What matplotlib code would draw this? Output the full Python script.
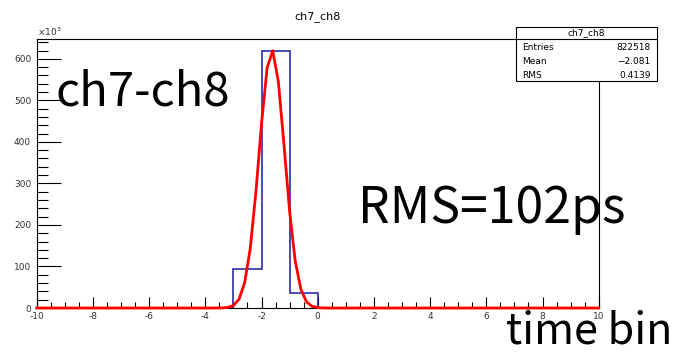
import numpy as np
import matplotlib
matplotlib.use("Agg")
import matplotlib.pyplot as plt
from matplotlib.patches import Rectangle
from matplotlib.ticker import MultipleLocator, FuncFormatter

plt.rcParams['axes.unicode_minus'] = False

# histogram ch7_ch8 (1 bin per time bin, -10..10)
bin_edges = np.arange(-10, 11, 1)
counts = [0, 0, 0, 0, 0, 0, 0, 95000, 619000, 35500,
          0, 0, 0, 0, 0, 0, 0, 0, 0, 0]

# gaussian fit parameters
fit_const = 621000
fit_mean = -1.63
fit_sigma = 0.45

stats_names = ["Entries", "Mean", "RMS"]
stats_vals = ["822518", "\u22122.081", "0.4139"]

W, H = 682, 353
fig = plt.figure(figsize=(W / 100, H / 100), dpi=100)
ax = fig.add_axes([36.7 / W, 1 - 308 / H, (598.7 - 36.7) / W, (308 - 39.3) / H])

ax.stairs(counts, bin_edges, color='#1a1aa8', linewidth=1.1, zorder=3)

# ROOT draws the fit with 100 segments
xf = np.linspace(-10, 10, 101)
yf = fit_const * np.exp(-0.5 * ((xf - fit_mean) / fit_sigma) ** 2)
ax.plot(xf, yf, color='#ff0000', linewidth=2.0, zorder=4, clip_on=False)

ax.set_xlim(-10, 10)
ax.set_ylim(0, 647000)

ax.xaxis.set_major_locator(MultipleLocator(2))
ax.xaxis.set_minor_locator(MultipleLocator(0.5))
ax.yaxis.set_major_locator(MultipleLocator(100000))
ax.yaxis.set_minor_locator(MultipleLocator(20000))
ax.yaxis.set_major_formatter(FuncFormatter(lambda v, p: "%d" % round(v / 1000)))
ax.tick_params(axis='x', which='major', direction='in', length=8, width=0.8,
               labelsize=6.5, pad=3, colors='black', labelcolor='#333333')
ax.tick_params(axis='x', which='minor', direction='in', length=4, width=0.8)
ax.tick_params(axis='y', which='major', direction='in', length=17, width=0.8,
               labelsize=6.5, pad=4, labelcolor='#333333')
ax.tick_params(axis='y', which='minor', direction='in', length=8, width=0.8)
for s in ax.spines.values():
    s.set_linewidth(0.8)

ax.text(0.0, 1.005, "\u00d710$^{3}$", transform=ax.transAxes, fontsize=6.5,
        color='#333333', ha='left', va='bottom')

fig.text(318 / W, 1 - 17 / H, "ch7_ch8", fontsize=8, ha='center', va='center')

# stats box
bx0, bx1, by0, by1, byt = 515.7, 656.7, 26.7, 81, 39.3
fig.patches.append(Rectangle((bx0 / W, 1 - by1 / H), (bx1 - bx0) / W, (by1 - by0) / H,
                             transform=fig.transFigure, facecolor='white',
                             edgecolor='black', linewidth=0.8, zorder=10))
fig.lines.append(plt.Line2D([bx0 / W, bx1 / W], [1 - byt / H, 1 - byt / H],
                            transform=fig.transFigure, color='black', linewidth=0.8, zorder=11))
fig.text((bx0 + bx1) / 2 / W, 1 - 33 / H, "ch7_ch8", fontsize=6.5, ha='center',
         va='center', zorder=12)
for i, (n, v) in enumerate(zip(stats_names, stats_vals)):
    yy = 1 - (48 + 13.5 * i) / H
    fig.text((bx0 + 6) / W, yy, n, fontsize=6.5, ha='left', va='center', zorder=12)
    fig.text((bx1 - 6) / W, yy, v, fontsize=6.5, ha='right', va='center', zorder=12)

big = ['Noto Sans CJK JP', 'DejaVu Sans']
fig.text(55 / W, 1 - 105 / H, "ch7-ch8", fontsize=34, family=big, ha='left',
         va='baseline')
fig.text(358 / W, 1 - 223 / H, "RMS=102ps", fontsize=36, family=big, ha='left',
         va='baseline')
fig.text(506 / W, 1 - 344 / H, "time bin", fontsize=31, family=big, ha='left',
         va='baseline')

fig.savefig("out.png", dpi=100)
